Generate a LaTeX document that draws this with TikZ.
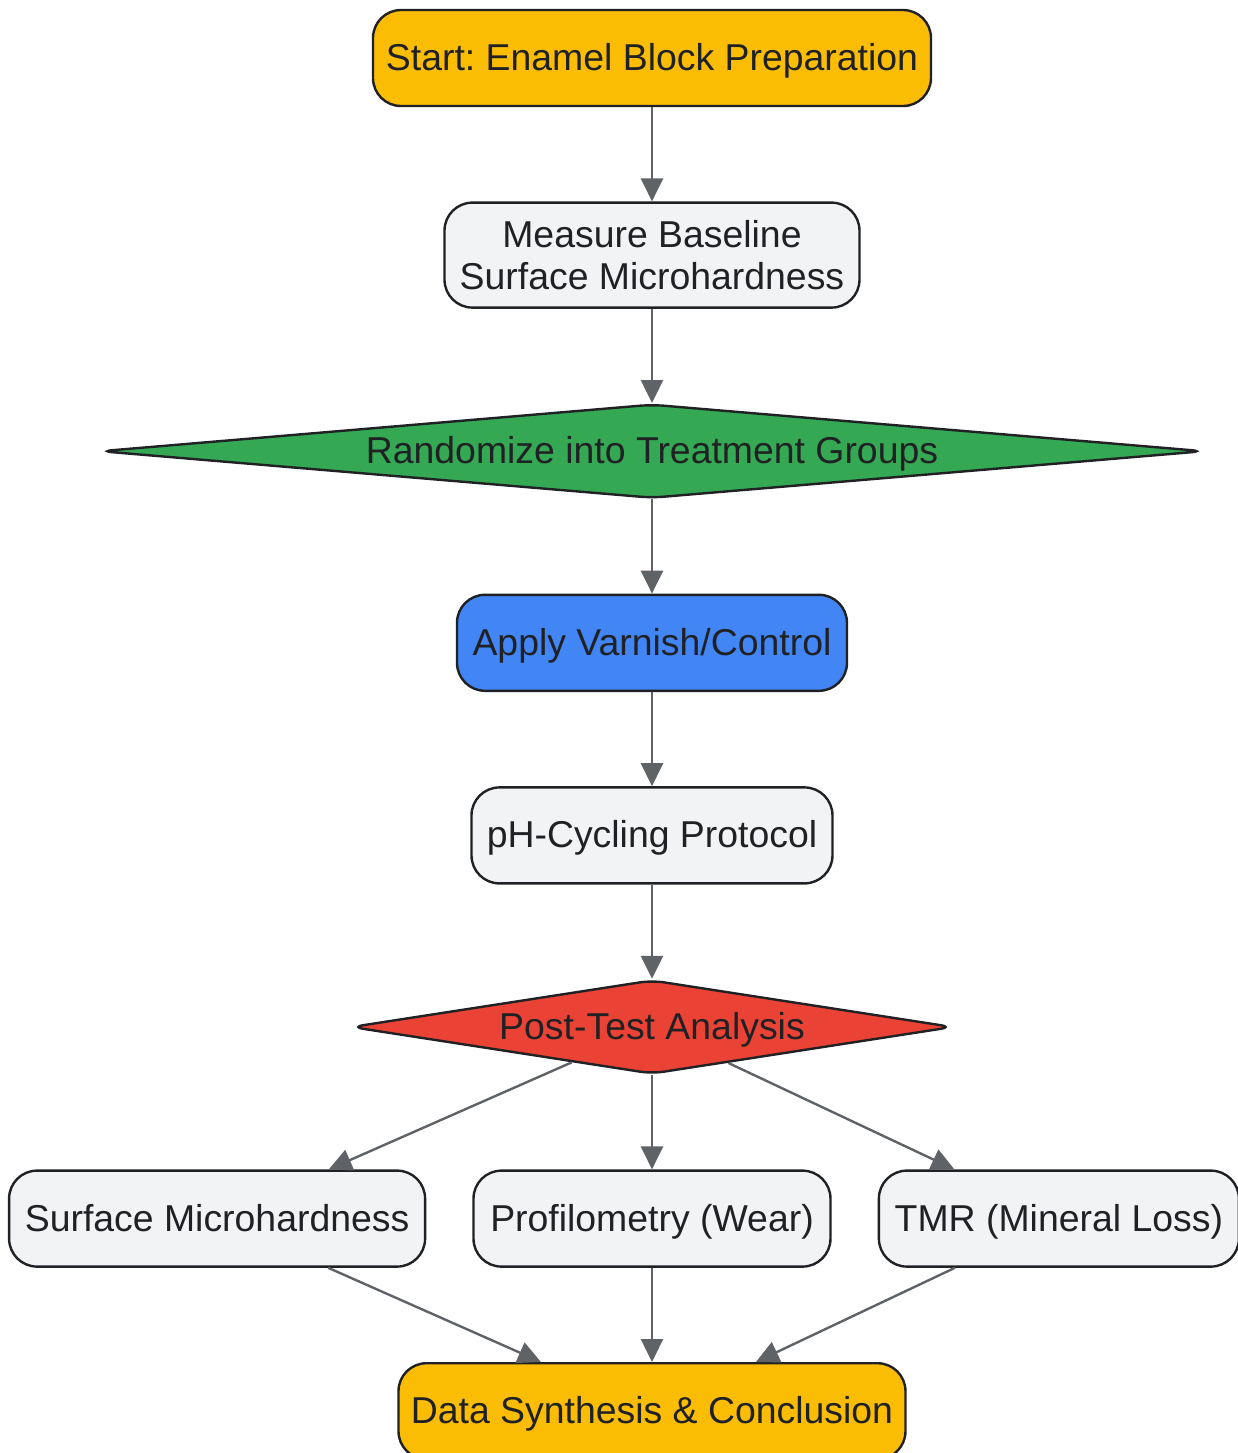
\documentclass[tikz,border=0pt]{standalone}
\usepackage{fontspec}
\setmainfont{Liberation Sans}
\usetikzlibrary{positioning, shapes.geometric, arrows.meta}
\definecolor{gyellow}{HTML}{FBBC04}
\definecolor{ggreen}{HTML}{34A853}
\definecolor{gblue}{HTML}{4285F4}
\definecolor{gred}{HTML}{EA4335}
\definecolor{ggrey}{HTML}{F1F3F4}
\definecolor{ink}{HTML}{202124}
\definecolor{wire}{HTML}{5F6368}
\frenchspacing

\begin{document}
\begin{tikzpicture}[
		node distance=47.1pt and 23pt,
		every node/.style={font=\fontsize{18.7}{21}\selectfont, text=ink, text height=14pt, text depth=1.5pt},
		box/.style={draw=ink, line width=1.2pt, rounded corners=14pt, fill=ggrey, minimum height=48pt, align=center, inner sep=0pt},
		choice/.style={draw=ink, line width=1.2pt, diamond, rounded corners=6pt, inner sep=0pt},
		flow/.style={draw=wire, line width=1.2pt, -{Triangle[length=11.5pt, width=11pt]}}
	]
		\useasboundingbox (-326pt, 29pt) rectangle (293pt, -697.5pt);
		
		\node[box, fill=gyellow, minimum width=279pt] (start) at (0, 0) {Start: Enamel Block Preparation};
		\node[box, minimum width=207.5pt, minimum height=52.5pt, text height=, text depth=, below=of start] (baseline) {Measure Baseline\\Surface Microhardness};
		\node[choice, fill=ggreen, aspect=10, minimum width=552pt, minimum height=47pt, below=of baseline] (randomize) {Randomize into Treatment Groups};
		\node[box, fill=gblue, minimum width=195pt, below=of randomize] (varnish) {Apply Varnish/Control};
		\node[box, minimum width=180.5pt, below=of varnish] (cycling) {pH-Cycling Protocol};
		\node[choice, fill=gred, aspect=6, minimum width=301pt, minimum height=47pt, below=of cycling] (analysis) {Post-Test Analysis};
		
		\node[box, minimum width=178.5pt, below=of analysis] (profil) {Profilometry (Wear)};
		\node[box, minimum width=208pt, left=of profil] (smh) {Surface Microhardness};
		\node[box, minimum width=180pt, right=of profil] (tmr) {TMR (Mineral Loss)};
		\node[box, fill=gyellow, minimum width=253.5pt, below=of profil] (synthesis) {Data Synthesis \& Conclusion};
		
		\draw[flow] (start) -- (baseline);
		\draw[flow] (baseline) -- (randomize);
		\draw[flow] (randomize) -- (varnish);
		\draw[flow] (varnish) -- (cycling);
		\draw[flow] (cycling) -- (analysis);
		
		\draw[flow] (analysis) -- (smh);
		\draw[flow] (analysis) -- (profil);
		\draw[flow] (analysis) -- (tmr);
		
		\draw[flow] (smh) -- (synthesis);
		\draw[flow] (profil) -- (synthesis);
		\draw[flow] (tmr) -- (synthesis);
	\end{tikzpicture}
\end{document}
